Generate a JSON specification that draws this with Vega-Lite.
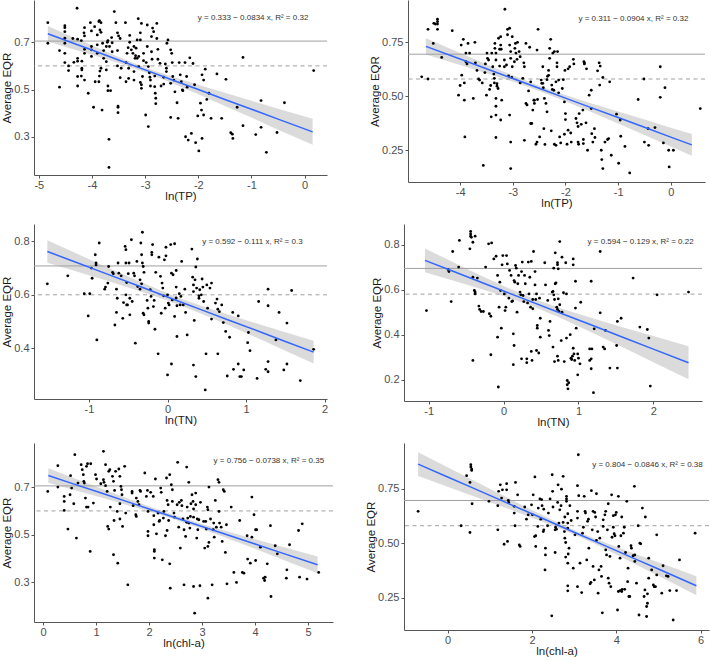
{
"$schema": "https://vega.github.io/schema/vega-lite/v6.json",
"background": "white",
"padding": {"left": 1, "top": 0, "right": 0, "bottom": 0},
"config": {
 "view": {"stroke": null},
 "axis": {"grid": false, "domainColor": "#555555", "domainWidth": 1, "tickColor": "#555555", "tickSize": 3, "labelFont": "Liberation Sans", "labelFontSize": 11, "labelColor": "#4d4d4d", "labelPadding": 2, "titleFont": "Liberation Sans", "titleFontSize": 11.5, "titleFontWeight": "normal", "titleColor": "#1a1a1a", "titlePadding": 1, "labelFlush": false, "labelOverlap": false, "labelExpr": "replace(datum.label, '−', '-')"},
 "axisX": {"labelPadding": 1, "titlePadding": 0},
 "text": {"font": "Liberation Sans"}
},
"datasets": {
 "refs": [
  {"p":1,"v":0.705,"t":"solid"},{"p":1,"v":0.6,"t":"dashed"},
  {"p":2,"v":0.695,"t":"solid"},{"p":2,"v":0.58,"t":"dashed"},
  {"p":3,"v":0.708,"t":"solid"},{"p":3,"v":0.6,"t":"dashed"},
  {"p":4,"v":0.694,"t":"solid"},{"p":4,"v":0.58,"t":"dashed"},
  {"p":5,"v":0.705,"t":"solid"},{"p":5,"v":0.6,"t":"dashed"},
  {"p":6,"v":0.696,"t":"solid"},{"p":6,"v":0.58,"t":"dashed"}
 ],
 "notes": [
  {"p":1,"x":-0.97,"y":0.803,"label":"y = 0.333 − 0.0834 x,  R² = 0.32"},
  {"p":2,"x":-0.71,"y":0.858,"label":"y = 0.311 − 0.0904 x,  R² = 0.32"},
  {"p":3,"x":1.08,"y":0.797,"label":"y = 0.592 − 0.111 x,  R² = 0.3"},
  {"p":4,"x":1.83,"y":0.813,"label":"y = 0.594 − 0.129 x,  R² = 0.22"},
  {"p":5,"x":4.26,"y":0.808,"label":"y = 0.756 − 0.0738 x,  R² = 0.35"},
  {"p":6,"x":4.74,"y":0.86,"label":"y = 0.804 − 0.0846 x,  R² = 0.38"}
 ],
 "band": [
  {"p":1,"x":-4.83,"lo":0.703,"hi":0.769,"fit":0.736},{"p":1,"x":-4.4,"lo":0.674,"hi":0.726,"fit":0.700},{"p":1,"x":-4,"lo":0.647,"hi":0.687,"fit":0.667},{"p":1,"x":-3.5,"lo":0.612,"hi":0.638,"fit":0.625},{"p":1,"x":-3,"lo":0.573,"hi":0.593,"fit":0.583},{"p":1,"x":-2.5,"lo":0.528,"hi":0.555,"fit":0.5415},{"p":1,"x":-2,"lo":0.480,"hi":0.520,"fit":0.500},{"p":1,"x":-1.5,"lo":0.430,"hi":0.486,"fit":0.458},{"p":1,"x":-1,"lo":0.381,"hi":0.452,"fit":0.4165},{"p":1,"x":-0.5,"lo":0.330,"hi":0.419,"fit":0.3745},{"p":1,"x":0.15,"lo":0.266,"hi":0.376,"fit":0.3205},
  {"p":2,"x":-4.65,"lo":0.693,"hi":0.769,"fit":0.731},{"p":2,"x":-4,"lo":0.645,"hi":0.700,"fit":0.6725},{"p":2,"x":-3.5,"lo":0.607,"hi":0.648,"fit":0.6275},{"p":2,"x":-3,"lo":0.568,"hi":0.597,"fit":0.5825},{"p":2,"x":-2.5,"lo":0.525,"hi":0.549,"fit":0.537},{"p":2,"x":-2,"lo":0.477,"hi":0.506,"fit":0.4915},{"p":2,"x":-1.5,"lo":0.426,"hi":0.467,"fit":0.4465},{"p":2,"x":-1,"lo":0.374,"hi":0.429,"fit":0.4015},{"p":2,"x":-0.5,"lo":0.321,"hi":0.392,"fit":0.3565},{"p":2,"x":0,"lo":0.268,"hi":0.354,"fit":0.311},{"p":2,"x":0.4,"lo":0.225,"hi":0.325,"fit":0.275},
  {"p":3,"x":-1.53,"lo":0.720,"hi":0.804,"fit":0.762},{"p":3,"x":-1.2,"lo":0.691,"hi":0.760,"fit":0.7255},{"p":3,"x":-0.8,"lo":0.655,"hi":0.707,"fit":0.681},{"p":3,"x":-0.4,"lo":0.618,"hi":0.655,"fit":0.6365},{"p":3,"x":0,"lo":0.5785,"hi":0.6055,"fit":0.592},{"p":3,"x":0.15,"lo":0.562,"hi":0.588,"fit":0.575},{"p":3,"x":0.4,"lo":0.533,"hi":0.562,"fit":0.5475},{"p":3,"x":0.8,"lo":0.483,"hi":0.523,"fit":0.503},{"p":3,"x":1.2,"lo":0.431,"hi":0.487,"fit":0.459},{"p":3,"x":1.5,"lo":0.391,"hi":0.460,"fit":0.4255},{"p":3,"x":1.86,"lo":0.343,"hi":0.428,"fit":0.3855},
  {"p":4,"x":-1.05,"lo":0.677,"hi":0.782,"fit":0.7295},{"p":4,"x":-0.7,"lo":0.643,"hi":0.726,"fit":0.6845},{"p":4,"x":-0.3,"lo":0.603,"hi":0.662,"fit":0.6325},{"p":4,"x":0,"lo":0.572,"hi":0.616,"fit":0.594},{"p":4,"x":0.4,"lo":0.525,"hi":0.559,"fit":0.5425},{"p":4,"x":0.8,"lo":0.469,"hi":0.513,"fit":0.491},{"p":4,"x":1.2,"lo":0.407,"hi":0.472,"fit":0.4395},{"p":4,"x":1.6,"lo":0.343,"hi":0.432,"fit":0.3875},{"p":4,"x":2.0,"lo":0.278,"hi":0.394,"fit":0.336},{"p":4,"x":2.47,"lo":0.202,"hi":0.349,"fit":0.2755},
  {"p":5,"x":0.1,"lo":0.718,"hi":0.779,"fit":0.7485},{"p":5,"x":0.6,"lo":0.687,"hi":0.736,"fit":0.7115},{"p":5,"x":1.1,"lo":0.656,"hi":0.694,"fit":0.675},{"p":5,"x":1.6,"lo":0.624,"hi":0.652,"fit":0.638},{"p":5,"x":2.1,"lo":0.591,"hi":0.611,"fit":0.601},{"p":5,"x":2.5,"lo":0.5625,"hi":0.5805,"fit":0.5715},{"p":5,"x":3.0,"lo":0.524,"hi":0.545,"fit":0.5345},{"p":5,"x":3.5,"lo":0.483,"hi":0.513,"fit":0.498},{"p":5,"x":4.0,"lo":0.441,"hi":0.481,"fit":0.461},{"p":5,"x":4.5,"lo":0.397,"hi":0.451,"fit":0.424},{"p":5,"x":5.18,"lo":0.339,"hi":0.409,"fit":0.374},
  {"p":6,"x":-0.7,"lo":0.808,"hi":0.918,"fit":0.863},{"p":6,"x":0,"lo":0.759,"hi":0.849,"fit":0.804},{"p":6,"x":0.5,"lo":0.724,"hi":0.7995,"fit":0.7617},{"p":6,"x":1,"lo":0.6885,"hi":0.750,"fit":0.7194},{"p":6,"x":1.5,"lo":0.653,"hi":0.701,"fit":0.677},{"p":6,"x":2,"lo":0.617,"hi":0.6525,"fit":0.6348},{"p":6,"x":2.5,"lo":0.580,"hi":0.605,"fit":0.5925},{"p":6,"x":3,"lo":0.540,"hi":0.560,"fit":0.550},{"p":6,"x":3.5,"lo":0.4955,"hi":0.520,"fit":0.508},{"p":6,"x":4,"lo":0.448,"hi":0.483,"fit":0.4655},{"p":6,"x":4.5,"lo":0.399,"hi":0.447,"fit":0.423},{"p":6,"x":5,"lo":0.350,"hi":0.412,"fit":0.381},{"p":6,"x":5.9,"lo":0.261,"hi":0.348,"fit":0.3045}
 ],
 "pts": [
  {"p":1,"x":-4.83,"y":0.783},{"p":1,"x":-4.83,"y":0.696},{"p":1,"x":-4.61,"y":0.665},{"p":1,"x":-4.61,"y":0.51},{"p":1,"x":-4.51,"y":0.77},{"p":1,"x":-4.51,"y":0.762},{"p":1,"x":-4.51,"y":0.745},{"p":1,"x":-4.51,"y":0.717},{"p":1,"x":-4.51,"y":0.696},{"p":1,"x":-4.51,"y":0.653},{"p":1,"x":-4.51,"y":0.614},{"p":1,"x":-4.44,"y":0.6},{"p":1,"x":-4.44,"y":0.58},{"p":1,"x":-4.36,"y":0.716},{"p":1,"x":-4.34,"y":0.615},{"p":1,"x":-4.28,"y":0.844},{"p":1,"x":-4.27,"y":0.713},{"p":1,"x":-4.27,"y":0.632},{"p":1,"x":-4.27,"y":0.62},{"p":1,"x":-4.27,"y":0.555},{"p":1,"x":-4.27,"y":0.515},{"p":1,"x":-4.2,"y":0.707},{"p":1,"x":-4.2,"y":0.557},{"p":1,"x":-4.15,"y":0.74},{"p":1,"x":-4.14,"y":0.762},{"p":1,"x":-4.14,"y":0.727},{"p":1,"x":-4.14,"y":0.67},{"p":1,"x":-4.14,"y":0.653},{"p":1,"x":-4.14,"y":0.54},{"p":1,"x":-4.19,"y":0.62},{"p":1,"x":-4.19,"y":0.59},{"p":1,"x":-4.19,"y":0.583},{"p":1,"x":-4.07,"y":0.484},{"p":1,"x":-4.03,"y":0.783},{"p":1,"x":-4.01,"y":0.748},{"p":1,"x":-4.01,"y":0.682},{"p":1,"x":-4.01,"y":0.668},{"p":1,"x":-4.01,"y":0.64},{"p":1,"x":-3.97,"y":0.425},{"p":1,"x":-3.95,"y":0.766},{"p":1,"x":-3.94,"y":0.533},{"p":1,"x":-3.9,"y":0.653},{"p":1,"x":-3.9,"y":0.689},{"p":1,"x":-3.9,"y":0.731},{"p":1,"x":-3.87,"y":0.788},{"p":1,"x":-3.86,"y":0.792},{"p":1,"x":-3.83,"y":0.783},{"p":1,"x":-3.85,"y":0.752},{"p":1,"x":-3.83,"y":0.742},{"p":1,"x":-3.87,"y":0.533},{"p":1,"x":-3.86,"y":0.557},{"p":1,"x":-3.85,"y":0.578},{"p":1,"x":-3.83,"y":0.59},{"p":1,"x":-3.81,"y":0.413},{"p":1,"x":-3.8,"y":0.696},{"p":1,"x":-3.78,"y":0.665},{"p":1,"x":-3.78,"y":0.632},{"p":1,"x":-3.73,"y":0.682},{"p":1,"x":-3.73,"y":0.618},{"p":1,"x":-3.73,"y":0.583},{"p":1,"x":-3.71,"y":0.7},{"p":1,"x":-3.7,"y":0.707},{"p":1,"x":-3.7,"y":0.515},{"p":1,"x":-3.7,"y":0.495},{"p":1,"x":-3.68,"y":0.289},{"p":1,"x":-3.68,"y":0.17},{"p":1,"x":-3.65,"y":0.495},{"p":1,"x":-3.67,"y":0.682},{"p":1,"x":-3.63,"y":0.72},{"p":1,"x":-3.62,"y":0.698},{"p":1,"x":-3.62,"y":0.66},{"p":1,"x":-3.58,"y":0.83},{"p":1,"x":-3.55,"y":0.783},{"p":1,"x":-3.52,"y":0.6},{"p":1,"x":-3.52,"y":0.665},{"p":1,"x":-3.52,"y":0.74},{"p":1,"x":-3.5,"y":0.727},{"p":1,"x":-3.51,"y":0.43},{"p":1,"x":-3.51,"y":0.425},{"p":1,"x":-3.51,"y":0.402},{"p":1,"x":-3.47,"y":0.716},{"p":1,"x":-3.47,"y":0.55},{"p":1,"x":-3.45,"y":0.59},{"p":1,"x":-3.37,"y":0.783},{"p":1,"x":-3.36,"y":0.614},{"p":1,"x":-3.36,"y":0.533},{"p":1,"x":-3.34,"y":0.653},{"p":1,"x":-3.32,"y":0.677},{"p":1,"x":-3.31,"y":0.59},{"p":1,"x":-3.31,"y":0.547},{"p":1,"x":-3.29,"y":0.7},{"p":1,"x":-3.29,"y":0.729},{"p":1,"x":-3.26,"y":0.668},{"p":1,"x":-3.23,"y":0.653},{"p":1,"x":-3.21,"y":0.682},{"p":1,"x":-3.19,"y":0.632},{"p":1,"x":-3.21,"y":0.576},{"p":1,"x":-3.21,"y":0.54},{"p":1,"x":-3.18,"y":0.643},{"p":1,"x":-3.17,"y":0.675},{"p":1,"x":-3.15,"y":0.71},{"p":1,"x":-3.13,"y":0.8},{"p":1,"x":-3.15,"y":0.632},{"p":1,"x":-3.12,"y":0.64},{"p":1,"x":-3.12,"y":0.597},{"p":1,"x":-3.09,"y":0.71},{"p":1,"x":-3.09,"y":0.74},{"p":1,"x":-3.07,"y":0.78},{"p":1,"x":-3.09,"y":0.53},{"p":1,"x":-3.07,"y":0.52},{"p":1,"x":-3.07,"y":0.505},{"p":1,"x":-3.05,"y":0.555},{"p":1,"x":-3.03,"y":0.622},{"p":1,"x":-3.03,"y":0.653},{"p":1,"x":-2.99,"y":0.392},{"p":1,"x":-2.98,"y":0.614},{"p":1,"x":-2.96,"y":0.773},{"p":1,"x":-2.96,"y":0.682},{"p":1,"x":-2.94,"y":0.597},{"p":1,"x":-2.94,"y":0.343},{"p":1,"x":-2.92,"y":0.571},{"p":1,"x":-2.91,"y":0.552},{"p":1,"x":-2.9,"y":0.54},{"p":1,"x":-2.9,"y":0.515},{"p":1,"x":-2.88,"y":0.724},{"p":1,"x":-2.88,"y":0.66},{"p":1,"x":-2.87,"y":0.628},{"p":1,"x":-2.86,"y":0.76},{"p":1,"x":-2.84,"y":0.745},{"p":1,"x":-2.82,"y":0.557},{"p":1,"x":-2.82,"y":0.512},{"p":1,"x":-2.81,"y":0.484},{"p":1,"x":-2.8,"y":0.463},{"p":1,"x":-2.8,"y":0.44},{"p":1,"x":-2.78,"y":0.78},{"p":1,"x":-2.78,"y":0.716},{"p":1,"x":-2.76,"y":0.67},{"p":1,"x":-2.76,"y":0.628},{"p":1,"x":-2.72,"y":0.611},{"p":1,"x":-2.7,"y":0.515},{"p":1,"x":-2.65,"y":0.552},{"p":1,"x":-2.65,"y":0.523},{"p":1,"x":-2.62,"y":0.608},{"p":1,"x":-2.6,"y":0.59},{"p":1,"x":-2.6,"y":0.576},{"p":1,"x":-2.59,"y":0.696},{"p":1,"x":-2.57,"y":0.71},{"p":1,"x":-2.52,"y":0.668},{"p":1,"x":-2.5,"y":0.653},{"p":1,"x":-2.49,"y":0.614},{"p":1,"x":-2.52,"y":0.382},{"p":1,"x":-2.52,"y":0.526},{"p":1,"x":-2.48,"y":0.555},{"p":1,"x":-2.46,"y":0.54},{"p":1,"x":-2.44,"y":0.49},{"p":1,"x":-2.4,"y":0.444},{"p":1,"x":-2.38,"y":0.378},{"p":1,"x":-2.36,"y":0.614},{"p":1,"x":-2.34,"y":0.562},{"p":1,"x":-2.32,"y":0.533},{"p":1,"x":-2.3,"y":0.498},{"p":1,"x":-2.29,"y":0.495},{"p":1,"x":-2.25,"y":0.614},{"p":1,"x":-2.24,"y":0.3},{"p":1,"x":-2.22,"y":0.555},{"p":1,"x":-2.21,"y":0.51},{"p":1,"x":-2.19,"y":0.286},{"p":1,"x":-2.16,"y":0.634},{"p":1,"x":-2.13,"y":0.314},{"p":1,"x":-2.1,"y":0.61},{"p":1,"x":-2.07,"y":0.52},{"p":1,"x":-2.05,"y":0.275},{"p":1,"x":-2.01,"y":0.388},{"p":1,"x":-1.99,"y":0.24},{"p":1,"x":-1.96,"y":0.442},{"p":1,"x":-1.94,"y":0.413},{"p":1,"x":-1.93,"y":0.562},{"p":1,"x":-1.93,"y":0.293},{"p":1,"x":-1.9,"y":0.54},{"p":1,"x":-1.9,"y":0.392},{"p":1,"x":-1.87,"y":0.586},{"p":1,"x":-1.84,"y":0.458},{"p":1,"x":-1.8,"y":0.484},{"p":1,"x":-1.76,"y":0.378},{"p":1,"x":-1.65,"y":0.566},{"p":1,"x":-1.56,"y":0.378},{"p":1,"x":-1.48,"y":0.543},{"p":1,"x":-1.39,"y":0.317},{"p":1,"x":-1.36,"y":0.311},{"p":1,"x":-1.35,"y":0.293},{"p":1,"x":-1.27,"y":0.425},{"p":1,"x":-1.16,"y":0.636},{"p":1,"x":-1.16,"y":0.347},{"p":1,"x":-0.92,"y":0.309},{"p":1,"x":-0.82,"y":0.453},{"p":1,"x":-0.82,"y":0.34},{"p":1,"x":-0.72,"y":0.234},{"p":1,"x":-0.52,"y":0.318},{"p":1,"x":-0.38,"y":0.444},{"p":1,"x":0.17,"y":0.58},
  {"p":2,"x":-4.73,"y":0.59},{"p":2,"x":-4.61,"y":0.81},{"p":2,"x":-4.61,"y":0.58},{"p":2,"x":-4.5,"y":0.838},{"p":2,"x":-4.47,"y":0.835},{"p":2,"x":-4.51,"y":0.745},{"p":2,"x":-4.43,"y":0.857},{"p":2,"x":-4.43,"y":0.846},{"p":2,"x":-4.43,"y":0.835},{"p":2,"x":-4.43,"y":0.81},{"p":2,"x":-4.35,"y":0.68},{"p":2,"x":-4.15,"y":0.804},{"p":2,"x":-4.03,"y":0.505},{"p":2,"x":-4.0,"y":0.55},{"p":2,"x":-3.98,"y":0.737},{"p":2,"x":-3.97,"y":0.598},{"p":2,"x":-3.94,"y":0.764},{"p":2,"x":-3.92,"y":0.482},{"p":2,"x":-3.91,"y":0.312},{"p":2,"x":-3.92,"y":0.562},{"p":2,"x":-3.89,"y":0.66},{"p":2,"x":-3.89,"y":0.7},{"p":2,"x":-3.87,"y":0.65},{"p":2,"x":-3.85,"y":0.745},{"p":2,"x":-3.82,"y":0.7},{"p":2,"x":-3.75,"y":0.49},{"p":2,"x":-3.72,"y":0.75},{"p":2,"x":-3.71,"y":0.655},{"p":2,"x":-3.68,"y":0.62},{"p":2,"x":-3.65,"y":0.58},{"p":2,"x":-3.63,"y":0.575},{"p":2,"x":-3.58,"y":0.562},{"p":2,"x":-3.56,"y":0.18},{"p":2,"x":-3.53,"y":0.61},{"p":2,"x":-3.52,"y":0.65},{"p":2,"x":-3.5,"y":0.505},{"p":2,"x":-3.49,"y":0.7},{"p":2,"x":-3.48,"y":0.676},{"p":2,"x":-3.46,"y":0.668},{"p":2,"x":-3.44,"y":0.532},{"p":2,"x":-3.42,"y":0.55},{"p":2,"x":-3.41,"y":0.405},{"p":2,"x":-3.4,"y":0.7},{"p":2,"x":-3.38,"y":0.637},{"p":2,"x":-3.36,"y":0.603},{"p":2,"x":-3.35,"y":0.583},{"p":2,"x":-3.35,"y":0.562},{"p":2,"x":-3.34,"y":0.745},{"p":2,"x":-3.34,"y":0.722},{"p":2,"x":-3.32,"y":0.7},{"p":2,"x":-3.32,"y":0.668},{"p":2,"x":-3.32,"y":0.49},{"p":2,"x":-3.32,"y":0.454},{"p":2,"x":-3.32,"y":0.413},{"p":2,"x":-3.32,"y":0.309},{"p":2,"x":-3.3,"y":0.558},{"p":2,"x":-3.3,"y":0.547},{"p":2,"x":-3.28,"y":0.536},{"p":2,"x":-3.27,"y":0.769},{"p":2,"x":-3.25,"y":0.718},{"p":2,"x":-3.25,"y":0.64},{"p":2,"x":-3.23,"y":0.776},{"p":2,"x":-3.23,"y":0.737},{"p":2,"x":-3.23,"y":0.39},{"p":2,"x":-3.22,"y":0.718},{"p":2,"x":-3.21,"y":0.482},{"p":2,"x":-3.16,"y":0.668},{"p":2,"x":-3.16,"y":0.637},{"p":2,"x":-3.12,"y":0.645},{"p":2,"x":-3.1,"y":0.81},{"p":2,"x":-3.1,"y":0.785},{"p":2,"x":-3.15,"y":0.903},{"p":2,"x":-3.08,"y":0.594},{"p":2,"x":-3.06,"y":0.413},{"p":2,"x":-3.06,"y":0.815},{"p":2,"x":-3.06,"y":0.737},{"p":2,"x":-3.04,"y":0.707},{"p":2,"x":-3.04,"y":0.676},{"p":2,"x":-3.04,"y":0.288},{"p":2,"x":-3.04,"y":0.165},{"p":2,"x":-3.02,"y":0.587},{"p":2,"x":-3.01,"y":0.776},{"p":2,"x":-3.01,"y":0.637},{"p":2,"x":-2.97,"y":0.66},{"p":2,"x":-2.96,"y":0.722},{"p":2,"x":-2.95,"y":0.745},{"p":2,"x":-2.94,"y":0.7},{"p":2,"x":-2.92,"y":0.671},{"p":2,"x":-2.91,"y":0.75},{"p":2,"x":-2.88,"y":0.707},{"p":2,"x":-2.86,"y":0.683},{"p":2,"x":-2.86,"y":0.562},{"p":2,"x":-2.81,"y":0.583},{"p":2,"x":-2.79,"y":0.655},{"p":2,"x":-2.78,"y":0.637},{"p":2,"x":-2.78,"y":0.296},{"p":2,"x":-2.75,"y":0.745},{"p":2,"x":-2.75,"y":0.467},{"p":2,"x":-2.73,"y":0.46},{"p":2,"x":-2.7,"y":0.525},{"p":2,"x":-2.68,"y":0.727},{"p":2,"x":-2.66,"y":0.567},{"p":2,"x":-2.66,"y":0.374},{"p":2,"x":-2.64,"y":0.374},{"p":2,"x":-2.62,"y":0.436},{"p":2,"x":-2.6,"y":0.482},{"p":2,"x":-2.59,"y":0.482},{"p":2,"x":-2.59,"y":0.467},{"p":2,"x":-2.56,"y":0.278},{"p":2,"x":-2.54,"y":0.714},{"p":2,"x":-2.54,"y":0.288},{"p":2,"x":-2.53,"y":0.485},{"p":2,"x":-2.52,"y":0.81},{"p":2,"x":-2.49,"y":0.312},{"p":2,"x":-2.46,"y":0.575},{"p":2,"x":-2.45,"y":0.56},{"p":2,"x":-2.43,"y":0.56},{"p":2,"x":-2.43,"y":0.637},{"p":2,"x":-2.42,"y":0.54},{"p":2,"x":-2.41,"y":0.35},{"p":2,"x":-2.4,"y":0.49},{"p":2,"x":-2.39,"y":0.277},{"p":2,"x":-2.37,"y":0.467},{"p":2,"x":-2.35,"y":0.428},{"p":2,"x":-2.35,"y":0.577},{"p":2,"x":-2.34,"y":0.593},{"p":2,"x":-2.32,"y":0.62},{"p":2,"x":-2.32,"y":0.597},{"p":2,"x":-2.3,"y":0.722},{"p":2,"x":-2.3,"y":0.676},{"p":2,"x":-2.28,"y":0.764},{"p":2,"x":-2.27,"y":0.34},{"p":2,"x":-2.26,"y":0.552},{"p":2,"x":-2.25,"y":0.532},{"p":2,"x":-2.24,"y":0.7},{"p":2,"x":-2.22,"y":0.528},{"p":2,"x":-2.21,"y":0.278},{"p":2,"x":-2.21,"y":0.707},{"p":2,"x":-2.18,"y":0.273},{"p":2,"x":-2.18,"y":0.567},{"p":2,"x":-2.16,"y":0.655},{"p":2,"x":-2.16,"y":0.637},{"p":2,"x":-2.15,"y":0.707},{"p":2,"x":-2.13,"y":0.575},{"p":2,"x":-2.13,"y":0.516},{"p":2,"x":-2.11,"y":0.312},{"p":2,"x":-2.09,"y":0.284},{"p":2,"x":-2.06,"y":0.536},{"p":2,"x":-2.04,"y":0.577},{"p":2,"x":-2.02,"y":0.474},{"p":2,"x":-2.02,"y":0.324},{"p":2,"x":-2.01,"y":0.62},{"p":2,"x":-2.0,"y":0.42},{"p":2,"x":-2.0,"y":0.392},{"p":2,"x":-1.97,"y":0.278},{"p":2,"x":-1.95,"y":0.627},{"p":2,"x":-1.95,"y":0.343},{"p":2,"x":-1.92,"y":0.637},{"p":2,"x":-1.9,"y":0.33},{"p":2,"x":-1.89,"y":0.288},{"p":2,"x":-1.85,"y":0.671},{"p":2,"x":-1.84,"y":0.65},{"p":2,"x":-1.8,"y":0.397},{"p":2,"x":-1.78,"y":0.377},{"p":2,"x":-1.76,"y":0.36},{"p":2,"x":-1.76,"y":0.288},{"p":2,"x":-1.75,"y":0.278},{"p":2,"x":-1.74,"y":0.42},{"p":2,"x":-1.7,"y":0.37},{"p":2,"x":-1.67,"y":0.436},{"p":2,"x":-1.65,"y":0.66},{"p":2,"x":-1.64,"y":0.655},{"p":2,"x":-1.64,"y":0.65},{"p":2,"x":-1.66,"y":0.3},{"p":2,"x":-1.66,"y":0.281},{"p":2,"x":-1.61,"y":0.377},{"p":2,"x":-1.6,"y":0.627},{"p":2,"x":-1.58,"y":0.25},{"p":2,"x":-1.55,"y":0.505},{"p":2,"x":-1.51,"y":0.528},{"p":2,"x":-1.51,"y":0.443},{"p":2,"x":-1.5,"y":0.327},{"p":2,"x":-1.48,"y":0.288},{"p":2,"x":-1.45,"y":0.35},{"p":2,"x":-1.44,"y":0.309},{"p":2,"x":-1.39,"y":0.618},{"p":2,"x":-1.36,"y":0.655},{"p":2,"x":-1.35,"y":0.552},{"p":2,"x":-1.34,"y":0.64},{"p":2,"x":-1.32,"y":0.25},{"p":2,"x":-1.31,"y":0.207},{"p":2,"x":-1.29,"y":0.587},{"p":2,"x":-1.29,"y":0.165},{"p":2,"x":-1.25,"y":0.288},{"p":2,"x":-1.2,"y":0.3},{"p":2,"x":-1.18,"y":0.304},{"p":2,"x":-1.16,"y":0.567},{"p":2,"x":-1.13,"y":0.227},{"p":2,"x":-1.03,"y":0.417},{"p":2,"x":-0.99,"y":0.19},{"p":2,"x":-0.96,"y":0.39},{"p":2,"x":-0.95,"y":0.315},{"p":2,"x":-0.87,"y":0.268},{"p":2,"x":-0.78,"y":0.145},{"p":2,"x":-0.62,"y":0.485},{"p":2,"x":-0.51,"y":0.58},{"p":2,"x":-0.5,"y":0.288},{"p":2,"x":-0.43,"y":0.35},{"p":2,"x":-0.42,"y":0.273},{"p":2,"x":-0.3,"y":0.355},{"p":2,"x":-0.2,"y":0.637},{"p":2,"x":-0.2,"y":0.495},{"p":2,"x":-0.14,"y":0.284},{"p":2,"x":-0.11,"y":0.54},{"p":2,"x":-0.04,"y":0.25},{"p":2,"x":-0.03,"y":0.173},{"p":2,"x":0.05,"y":0.25},{"p":2,"x":0.56,"y":0.443},
  {"p":3,"x":-1.53,"y":0.641},{"p":3,"x":-1.27,"y":0.671},{"p":3,"x":-1.06,"y":0.604},{"p":3,"x":-1.01,"y":0.521},{"p":3,"x":-0.99,"y":0.604},{"p":3,"x":-0.97,"y":0.7},{"p":3,"x":-0.96,"y":0.662},{"p":3,"x":-0.92,"y":0.75},{"p":3,"x":-0.91,"y":0.719},{"p":3,"x":-0.91,"y":0.712},{"p":3,"x":-0.9,"y":0.431},{"p":3,"x":-0.87,"y":0.794},{"p":3,"x":-0.8,"y":0.621},{"p":3,"x":-0.79,"y":0.629},{"p":3,"x":-0.76,"y":0.644},{"p":3,"x":-0.75,"y":0.706},{"p":3,"x":-0.7,"y":0.684},{"p":3,"x":-0.69,"y":0.679},{"p":3,"x":-0.67,"y":0.487},{"p":3,"x":-0.65,"y":0.621},{"p":3,"x":-0.65,"y":0.534},{"p":3,"x":-0.64,"y":0.587},{"p":3,"x":-0.63,"y":0.719},{"p":3,"x":-0.62,"y":0.681},{"p":3,"x":-0.59,"y":0.671},{"p":3,"x":-0.57,"y":0.512},{"p":3,"x":-0.56,"y":0.571},{"p":3,"x":-0.54,"y":0.781},{"p":3,"x":-0.53,"y":0.769},{"p":3,"x":-0.53,"y":0.719},{"p":3,"x":-0.53,"y":0.6},{"p":3,"x":-0.52,"y":0.646},{"p":3,"x":-0.52,"y":0.562},{"p":3,"x":-0.51,"y":0.562},{"p":3,"x":-0.5,"y":0.679},{"p":3,"x":-0.49,"y":0.719},{"p":3,"x":-0.48,"y":0.587},{"p":3,"x":-0.48,"y":0.525},{"p":3,"x":-0.46,"y":0.806},{"p":3,"x":-0.45,"y":0.575},{"p":3,"x":-0.43,"y":0.681},{"p":3,"x":-0.42,"y":0.671},{"p":3,"x":-0.41,"y":0.419},{"p":3,"x":-0.39,"y":0.725},{"p":3,"x":-0.38,"y":0.631},{"p":3,"x":-0.35,"y":0.656},{"p":3,"x":-0.35,"y":0.621},{"p":3,"x":-0.34,"y":0.794},{"p":3,"x":-0.33,"y":0.75},{"p":3,"x":-0.33,"y":0.641},{"p":3,"x":-0.32,"y":0.834},{"p":3,"x":-0.32,"y":0.719},{"p":3,"x":-0.31,"y":0.531},{"p":3,"x":-0.3,"y":0.525},{"p":3,"x":-0.31,"y":0.706},{"p":3,"x":-0.3,"y":0.684},{"p":3,"x":-0.26,"y":0.579},{"p":3,"x":-0.25,"y":0.55},{"p":3,"x":-0.24,"y":0.5},{"p":3,"x":-0.24,"y":0.494},{"p":3,"x":-0.22,"y":0.619},{"p":3,"x":-0.21,"y":0.594},{"p":3,"x":-0.2,"y":0.759},{"p":3,"x":-0.2,"y":0.75},{"p":3,"x":-0.19,"y":0.788},{"p":3,"x":-0.18,"y":0.556},{"p":3,"x":-0.17,"y":0.579},{"p":3,"x":-0.16,"y":0.471},{"p":3,"x":-0.15,"y":0.684},{"p":3,"x":-0.12,"y":0.379},{"p":3,"x":-0.11,"y":0.741},{"p":3,"x":-0.09,"y":0.669},{"p":3,"x":-0.08,"y":0.531},{"p":3,"x":-0.07,"y":0.644},{"p":3,"x":-0.06,"y":0.625},{"p":3,"x":-0.05,"y":0.596},{"p":3,"x":-0.04,"y":0.731},{"p":3,"x":-0.03,"y":0.55},{"p":3,"x":-0.02,"y":0.746},{"p":3,"x":-0.02,"y":0.778},{"p":3,"x":0.0,"y":0.6},{"p":3,"x":0.0,"y":0.3},{"p":3,"x":0.01,"y":0.569},{"p":3,"x":0.02,"y":0.562},{"p":3,"x":0.04,"y":0.788},{"p":3,"x":0.05,"y":0.681},{"p":3,"x":0.05,"y":0.341},{"p":3,"x":0.06,"y":0.581},{"p":3,"x":0.07,"y":0.675},{"p":3,"x":0.09,"y":0.519},{"p":3,"x":0.09,"y":0.791},{"p":3,"x":0.11,"y":0.588},{"p":3,"x":0.11,"y":0.691},{"p":3,"x":0.11,"y":0.629},{"p":3,"x":0.12,"y":0.559},{"p":3,"x":0.12,"y":0.444},{"p":3,"x":0.15,"y":0.604},{"p":3,"x":0.16,"y":0.562},{"p":3,"x":0.17,"y":0.594},{"p":3,"x":0.18,"y":0.725},{"p":3,"x":0.2,"y":0.562},{"p":3,"x":0.22,"y":0.621},{"p":3,"x":0.23,"y":0.534},{"p":3,"x":0.25,"y":0.45},{"p":3,"x":0.31,"y":0.771},{"p":3,"x":0.32,"y":0.666},{"p":3,"x":0.33,"y":0.612},{"p":3,"x":0.33,"y":0.637},{"p":3,"x":0.33,"y":0.337},{"p":3,"x":0.34,"y":0.504},{"p":3,"x":0.35,"y":0.656},{"p":3,"x":0.36,"y":0.704},{"p":3,"x":0.36,"y":0.294},{"p":3,"x":0.37,"y":0.625},{"p":3,"x":0.38,"y":0.734},{"p":3,"x":0.4,"y":0.587},{"p":3,"x":0.4,"y":0.596},{"p":3,"x":0.41,"y":0.619},{"p":3,"x":0.43,"y":0.6},{"p":3,"x":0.44,"y":0.659},{"p":3,"x":0.45,"y":0.629},{"p":3,"x":0.46,"y":0.575},{"p":3,"x":0.48,"y":0.244},{"p":3,"x":0.49,"y":0.379},{"p":3,"x":0.5,"y":0.637},{"p":3,"x":0.51,"y":0.55},{"p":3,"x":0.54,"y":0.625},{"p":3,"x":0.56,"y":0.644},{"p":3,"x":0.56,"y":0.509},{"p":3,"x":0.61,"y":0.569},{"p":3,"x":0.63,"y":0.584},{"p":3,"x":0.64,"y":0.546},{"p":3,"x":0.64,"y":0.379},{"p":3,"x":0.66,"y":0.537},{"p":3,"x":0.69,"y":0.562},{"p":3,"x":0.71,"y":0.496},{"p":3,"x":0.74,"y":0.463},{"p":3,"x":0.76,"y":0.296},{"p":3,"x":0.79,"y":0.441},{"p":3,"x":0.83,"y":0.534},{"p":3,"x":0.84,"y":0.321},{"p":3,"x":0.9,"y":0.521},{"p":3,"x":0.9,"y":0.341},{"p":3,"x":0.92,"y":0.294},{"p":3,"x":0.94,"y":0.294},{"p":3,"x":0.97,"y":0.319},{"p":3,"x":1.02,"y":0.421},{"p":3,"x":1.03,"y":0.459},{"p":3,"x":1.05,"y":0.391},{"p":3,"x":1.14,"y":0.287},{"p":3,"x":1.16,"y":0.575},{"p":3,"x":1.25,"y":0.321},{"p":3,"x":1.28,"y":0.621},{"p":3,"x":1.28,"y":0.559},{"p":3,"x":1.28,"y":0.35},{"p":3,"x":1.28,"y":0.312},{"p":3,"x":1.38,"y":0.431},{"p":3,"x":1.42,"y":0.534},{"p":3,"x":1.48,"y":0.319},{"p":3,"x":1.52,"y":0.494},{"p":3,"x":1.52,"y":0.341},{"p":3,"x":1.58,"y":0.616},{"p":3,"x":1.69,"y":0.279},{"p":3,"x":1.86,"y":0.396},
  {"p":4,"x":-1.03,"y":0.507},{"p":4,"x":-0.74,"y":0.689},{"p":4,"x":-0.73,"y":0.68},{"p":4,"x":-0.7,"y":0.547},{"p":4,"x":-0.68,"y":0.769},{"p":4,"x":-0.6,"y":0.7},{"p":4,"x":-0.59,"y":0.818},{"p":4,"x":-0.45,"y":0.781},{"p":4,"x":-0.44,"y":0.858},{"p":4,"x":-0.44,"y":0.847},{"p":4,"x":-0.44,"y":0.837},{"p":4,"x":-0.43,"y":0.832},{"p":4,"x":-0.41,"y":0.81},{"p":4,"x":-0.41,"y":0.286},{"p":4,"x":-0.41,"y":0.655},{"p":4,"x":-0.39,"y":0.596},{"p":4,"x":-0.38,"y":0.581},{"p":4,"x":-0.38,"y":0.589},{"p":4,"x":-0.38,"y":0.837},{"p":4,"x":-0.35,"y":0.651},{"p":4,"x":-0.33,"y":0.527},{"p":4,"x":-0.32,"y":0.512},{"p":4,"x":-0.3,"y":0.503},{"p":4,"x":-0.27,"y":0.503},{"p":4,"x":-0.24,"y":0.7},{"p":4,"x":-0.2,"y":0.803},{"p":4,"x":-0.19,"y":0.493},{"p":4,"x":-0.17,"y":0.311},{"p":4,"x":-0.17,"y":0.482},{"p":4,"x":-0.16,"y":0.807},{"p":4,"x":-0.13,"y":0.736},{"p":4,"x":-0.1,"y":0.748},{"p":4,"x":-0.08,"y":0.389},{"p":4,"x":-0.08,"y":0.663},{"p":4,"x":-0.07,"y":0.168},{"p":4,"x":-0.06,"y":0.522},{"p":4,"x":-0.05,"y":0.633},{"p":4,"x":-0.04,"y":0.596},{"p":4,"x":-0.03,"y":0.429},{"p":4,"x":-0.02,"y":0.71},{"p":4,"x":-0.01,"y":0.751},{"p":4,"x":0.01,"y":0.581},{"p":4,"x":0.02,"y":0.507},{"p":4,"x":0.03,"y":0.522},{"p":4,"x":0.04,"y":0.751},{"p":4,"x":0.05,"y":0.714},{"p":4,"x":0.07,"y":0.562},{"p":4,"x":0.08,"y":0.685},{"p":4,"x":0.1,"y":0.663},{"p":4,"x":0.11,"y":0.547},{"p":4,"x":0.12,"y":0.55},{"p":4,"x":0.13,"y":0.404},{"p":4,"x":0.13,"y":0.267},{"p":4,"x":0.14,"y":0.352},{"p":4,"x":0.14,"y":0.64},{"p":4,"x":0.15,"y":0.633},{"p":4,"x":0.16,"y":0.707},{"p":4,"x":0.17,"y":0.695},{"p":4,"x":0.18,"y":0.5},{"p":4,"x":0.19,"y":0.626},{"p":4,"x":0.2,"y":0.663},{"p":4,"x":0.22,"y":0.589},{"p":4,"x":0.23,"y":0.577},{"p":4,"x":0.24,"y":0.293},{"p":4,"x":0.24,"y":0.68},{"p":4,"x":0.25,"y":0.722},{"p":4,"x":0.26,"y":0.574},{"p":4,"x":0.27,"y":0.547},{"p":4,"x":0.28,"y":0.663},{"p":4,"x":0.29,"y":0.626},{"p":4,"x":0.31,"y":0.276},{"p":4,"x":0.31,"y":0.293},{"p":4,"x":0.32,"y":0.541},{"p":4,"x":0.33,"y":0.722},{"p":4,"x":0.34,"y":0.581},{"p":4,"x":0.35,"y":0.655},{"p":4,"x":0.36,"y":0.522},{"p":4,"x":0.37,"y":0.725},{"p":4,"x":0.37,"y":0.326},{"p":4,"x":0.38,"y":0.286},{"p":4,"x":0.39,"y":0.556},{"p":4,"x":0.39,"y":0.515},{"p":4,"x":0.4,"y":0.769},{"p":4,"x":0.42,"y":0.621},{"p":4,"x":0.42,"y":0.68},{"p":4,"x":0.43,"y":0.556},{"p":4,"x":0.44,"y":0.581},{"p":4,"x":0.44,"y":0.33},{"p":4,"x":0.45,"y":0.441},{"p":4,"x":0.45,"y":0.429},{"p":4,"x":0.47,"y":0.319},{"p":4,"x":0.48,"y":0.562},{"p":4,"x":0.49,"y":0.473},{"p":4,"x":0.49,"y":0.389},{"p":4,"x":0.55,"y":0.719},{"p":4,"x":0.56,"y":0.621},{"p":4,"x":0.59,"y":0.552},{"p":4,"x":0.6,"y":0.419},{"p":4,"x":0.61,"y":0.396},{"p":4,"x":0.62,"y":0.459},{"p":4,"x":0.65,"y":0.589},{"p":4,"x":0.66,"y":0.592},{"p":4,"x":0.66,"y":0.345},{"p":4,"x":0.67,"y":0.695},{"p":4,"x":0.67,"y":0.577},{"p":4,"x":0.68,"y":0.556},{"p":4,"x":0.68,"y":0.281},{"p":4,"x":0.69,"y":0.763},{"p":4,"x":0.69,"y":0.626},{"p":4,"x":0.7,"y":0.63},{"p":4,"x":0.71,"y":0.522},{"p":4,"x":0.72,"y":0.512},{"p":4,"x":0.72,"y":0.719},{"p":4,"x":0.72,"y":0.71},{"p":4,"x":0.73,"y":0.692},{"p":4,"x":0.73,"y":0.559},{"p":4,"x":0.72,"y":0.305},{"p":4,"x":0.73,"y":0.286},{"p":4,"x":0.74,"y":0.503},{"p":4,"x":0.75,"y":0.533},{"p":4,"x":0.75,"y":0.813},{"p":4,"x":0.77,"y":0.374},{"p":4,"x":0.78,"y":0.5},{"p":4,"x":0.78,"y":0.744},{"p":4,"x":0.8,"y":0.586},{"p":4,"x":0.81,"y":0.281},{"p":4,"x":0.83,"y":0.719},{"p":4,"x":0.84,"y":0.581},{"p":4,"x":0.84,"y":0.385},{"p":4,"x":0.85,"y":0.197},{"p":4,"x":0.85,"y":0.178},{"p":4,"x":0.86,"y":0.16},{"p":4,"x":0.87,"y":0.187},{"p":4,"x":0.89,"y":0.4},{"p":4,"x":0.9,"y":0.296},{"p":4,"x":0.91,"y":0.29},{"p":4,"x":0.92,"y":0.305},{"p":4,"x":0.93,"y":0.71},{"p":4,"x":0.93,"y":0.736},{"p":4,"x":0.93,"y":0.34},{"p":4,"x":0.94,"y":0.315},{"p":4,"x":0.95,"y":0.286},{"p":4,"x":0.96,"y":0.637},{"p":4,"x":0.96,"y":0.518},{"p":4,"x":0.97,"y":0.429},{"p":4,"x":0.99,"y":0.222},{"p":4,"x":0.99,"y":0.315},{"p":4,"x":1.0,"y":0.296},{"p":4,"x":1.02,"y":0.271},{"p":4,"x":1.03,"y":0.544},{"p":4,"x":1.15,"y":0.337},{"p":4,"x":1.15,"y":0.286},{"p":4,"x":1.17,"y":0.637},{"p":4,"x":1.17,"y":0.293},{"p":4,"x":1.17,"y":0.249},{"p":4,"x":1.18,"y":0.337},{"p":4,"x":1.2,"y":0.143},{"p":4,"x":1.21,"y":0.426},{"p":4,"x":1.29,"y":0.769},{"p":4,"x":1.29,"y":0.497},{"p":4,"x":1.33,"y":0.345},{"p":4,"x":1.35,"y":0.337},{"p":4,"x":1.36,"y":0.419},{"p":4,"x":1.42,"y":0.252},{"p":4,"x":1.51,"y":0.352},{"p":4,"x":1.52,"y":0.459},{"p":4,"x":1.52,"y":0.252},{"p":4,"x":1.57,"y":0.473},{"p":4,"x":1.73,"y":0.651},{"p":4,"x":1.82,"y":0.434},{"p":4,"x":1.92,"y":0.423},{"p":4,"x":1.94,"y":0.385},{"p":4,"x":1.96,"y":0.172},{"p":4,"x":2.05,"y":0.577},{"p":4,"x":2.47,"y":0.589},
  {"p":5,"x":0.09,"y":0.682},{"p":5,"x":0.28,"y":0.79},{"p":5,"x":0.28,"y":0.7},{"p":5,"x":0.4,"y":0.661},{"p":5,"x":0.4,"y":0.64},{"p":5,"x":0.4,"y":0.602},{"p":5,"x":0.47,"y":0.524},{"p":5,"x":0.51,"y":0.668},{"p":5,"x":0.52,"y":0.748},{"p":5,"x":0.54,"y":0.696},{"p":5,"x":0.58,"y":0.63},{"p":5,"x":0.6,"y":0.836},{"p":5,"x":0.63,"y":0.486},{"p":5,"x":0.66,"y":0.717},{"p":5,"x":0.72,"y":0.794},{"p":5,"x":0.74,"y":0.773},{"p":5,"x":0.76,"y":0.752},{"p":5,"x":0.77,"y":0.724},{"p":5,"x":0.78,"y":0.717},{"p":5,"x":0.8,"y":0.654},{"p":5,"x":0.82,"y":0.616},{"p":5,"x":0.82,"y":0.787},{"p":5,"x":0.84,"y":0.798},{"p":5,"x":0.85,"y":0.616},{"p":5,"x":0.89,"y":0.43},{"p":5,"x":0.9,"y":0.798},{"p":5,"x":0.95,"y":0.633},{"p":5,"x":0.99,"y":0.752},{"p":5,"x":1.01,"y":0.734},{"p":5,"x":1.09,"y":0.714},{"p":5,"x":1.14,"y":0.85},{"p":5,"x":1.14,"y":0.731},{"p":5,"x":1.15,"y":0.72},{"p":5,"x":1.18,"y":0.794},{"p":5,"x":1.18,"y":0.706},{"p":5,"x":1.21,"y":0.682},{"p":5,"x":1.22,"y":0.535},{"p":5,"x":1.24,"y":0.766},{"p":5,"x":1.24,"y":0.524},{"p":5,"x":1.26,"y":0.773},{"p":5,"x":1.27,"y":0.616},{"p":5,"x":1.31,"y":0.745},{"p":5,"x":1.33,"y":0.724},{"p":5,"x":1.33,"y":0.416},{"p":5,"x":1.34,"y":0.56},{"p":5,"x":1.35,"y":0.686},{"p":5,"x":1.37,"y":0.766},{"p":5,"x":1.4,"y":0.598},{"p":5,"x":1.41,"y":0.381},{"p":5,"x":1.43,"y":0.776},{"p":5,"x":1.45,"y":0.745},{"p":5,"x":1.45,"y":0.63},{"p":5,"x":1.45,"y":0.566},{"p":5,"x":1.47,"y":0.703},{"p":5,"x":1.48,"y":0.689},{"p":5,"x":1.49,"y":0.668},{"p":5,"x":1.5,"y":0.535},{"p":5,"x":1.54,"y":0.787},{"p":5,"x":1.56,"y":0.591},{"p":5,"x":1.6,"y":0.29},{"p":5,"x":1.68,"y":0.682},{"p":5,"x":1.68,"y":0.675},{"p":5,"x":1.7,"y":0.622},{"p":5,"x":1.75,"y":0.584},{"p":5,"x":1.76,"y":0.577},{"p":5,"x":1.76,"y":0.654},{"p":5,"x":1.79,"y":0.64},{"p":5,"x":1.81,"y":0.626},{"p":5,"x":1.83,"y":0.686},{"p":5,"x":1.84,"y":0.682},{"p":5,"x":1.92,"y":0.759},{"p":5,"x":1.95,"y":0.661},{"p":5,"x":1.97,"y":0.686},{"p":5,"x":1.98,"y":0.598},{"p":5,"x":1.98,"y":0.514},{"p":5,"x":1.98,"y":0.496},{"p":5,"x":2.03,"y":0.678},{"p":5,"x":2.08,"y":0.661},{"p":5,"x":2.09,"y":0.58},{"p":5,"x":2.09,"y":0.542},{"p":5,"x":2.1,"y":0.437},{"p":5,"x":2.1,"y":0.43},{"p":5,"x":2.1,"y":0.402},{"p":5,"x":2.12,"y":0.734},{"p":5,"x":2.14,"y":0.504},{"p":5,"x":2.17,"y":0.591},{"p":5,"x":2.19,"y":0.556},{"p":5,"x":2.2,"y":0.56},{"p":5,"x":2.22,"y":0.696},{"p":5,"x":2.23,"y":0.678},{"p":5,"x":2.25,"y":0.395},{"p":5,"x":2.27,"y":0.57},{"p":5,"x":2.28,"y":0.598},{"p":5,"x":2.31,"y":0.496},{"p":5,"x":2.33,"y":0.738},{"p":5,"x":2.34,"y":0.644},{"p":5,"x":2.34,"y":0.518},{"p":5,"x":2.36,"y":0.626},{"p":5,"x":2.37,"y":0.56},{"p":5,"x":2.39,"y":0.752},{"p":5,"x":2.39,"y":0.378},{"p":5,"x":2.4,"y":0.276},{"p":5,"x":2.42,"y":0.71},{"p":5,"x":2.44,"y":0.689},{"p":5,"x":2.44,"y":0.64},{"p":5,"x":2.47,"y":0.591},{"p":5,"x":2.48,"y":0.574},{"p":5,"x":2.53,"y":0.626},{"p":5,"x":2.54,"y":0.804},{"p":5,"x":2.56,"y":0.532},{"p":5,"x":2.57,"y":0.636},{"p":5,"x":2.59,"y":0.444},{"p":5,"x":2.61,"y":0.644},{"p":5,"x":2.62,"y":0.622},{"p":5,"x":2.64,"y":0.566},{"p":5,"x":2.66,"y":0.521},{"p":5,"x":2.66,"y":0.29},{"p":5,"x":2.69,"y":0.493},{"p":5,"x":2.71,"y":0.552},{"p":5,"x":2.71,"y":0.784},{"p":5,"x":2.72,"y":0.616},{"p":5,"x":2.73,"y":0.57},{"p":5,"x":2.75,"y":0.72},{"p":5,"x":2.75,"y":0.549},{"p":5,"x":2.77,"y":0.528},{"p":5,"x":2.78,"y":0.577},{"p":5,"x":2.79,"y":0.63},{"p":5,"x":2.81,"y":0.668},{"p":5,"x":2.83,"y":0.64},{"p":5,"x":2.84,"y":0.608},{"p":5,"x":2.84,"y":0.574},{"p":5,"x":2.84,"y":0.283},{"p":5,"x":2.86,"y":0.171},{"p":5,"x":2.88,"y":0.675},{"p":5,"x":2.88,"y":0.626},{"p":5,"x":2.9,"y":0.486},{"p":5,"x":2.91,"y":0.566},{"p":5,"x":2.92,"y":0.521},{"p":5,"x":2.94,"y":0.563},{"p":5,"x":2.96,"y":0.286},{"p":5,"x":2.97,"y":0.636},{"p":5,"x":3.03,"y":0.556},{"p":5,"x":3.05,"y":0.444},{"p":5,"x":3.07,"y":0.556},{"p":5,"x":3.08,"y":0.524},{"p":5,"x":3.1,"y":0.616},{"p":5,"x":3.11,"y":0.605},{"p":5,"x":3.11,"y":0.234},{"p":5,"x":3.11,"y":0.451},{"p":5,"x":3.13,"y":0.468},{"p":5,"x":3.13,"y":0.7},{"p":5,"x":3.16,"y":0.566},{"p":5,"x":3.19,"y":0.29},{"p":5,"x":3.21,"y":0.521},{"p":5,"x":3.22,"y":0.549},{"p":5,"x":3.23,"y":0.49},{"p":5,"x":3.25,"y":0.644},{"p":5,"x":3.27,"y":0.532},{"p":5,"x":3.3,"y":0.731},{"p":5,"x":3.32,"y":0.72},{"p":5,"x":3.32,"y":0.598},{"p":5,"x":3.33,"y":0.549},{"p":5,"x":3.36,"y":0.532},{"p":5,"x":3.38,"y":0.472},{"p":5,"x":3.4,"y":0.689},{"p":5,"x":3.42,"y":0.682},{"p":5,"x":3.44,"y":0.426},{"p":5,"x":3.47,"y":0.294},{"p":5,"x":3.46,"y":0.542},{"p":5,"x":3.55,"y":0.616},{"p":5,"x":3.6,"y":0.342},{"p":5,"x":3.65,"y":0.3},{"p":5,"x":3.71,"y":0.56},{"p":5,"x":3.76,"y":0.342},{"p":5,"x":3.79,"y":0.339},{"p":5,"x":3.85,"y":0.496},{"p":5,"x":3.86,"y":0.398},{"p":5,"x":3.91,"y":0.381},{"p":5,"x":3.94,"y":0.49},{"p":5,"x":3.94,"y":0.658},{"p":5,"x":3.98,"y":0.584},{"p":5,"x":4.01,"y":0.392},{"p":5,"x":4.01,"y":0.521},{"p":5,"x":4.03,"y":0.521},{"p":5,"x":4.1,"y":0.448},{"p":5,"x":4.16,"y":0.318},{"p":5,"x":4.18,"y":0.308},{"p":5,"x":4.19,"y":0.322},{"p":5,"x":4.23,"y":0.378},{"p":5,"x":4.29,"y":0.538},{"p":5,"x":4.3,"y":0.241},{"p":5,"x":4.38,"y":0.454},{"p":5,"x":4.42,"y":0.42},{"p":5,"x":4.6,"y":0.353},{"p":5,"x":4.59,"y":0.318},{"p":5,"x":4.65,"y":0.458},{"p":5,"x":4.82,"y":0.518},{"p":5,"x":4.84,"y":0.322},{"p":5,"x":4.89,"y":0.546},{"p":5,"x":4.98,"y":0.314},{"p":5,"x":5.2,"y":0.342},
  {"p":6,"x":-0.7,"y":0.646},{"p":6,"x":0.32,"y":0.58},{"p":6,"x":0.45,"y":0.81},{"p":6,"x":0.53,"y":0.779},{"p":6,"x":0.53,"y":0.549},{"p":6,"x":0.55,"y":0.86},{"p":6,"x":0.55,"y":0.85},{"p":6,"x":0.57,"y":0.84},{"p":6,"x":0.57,"y":0.834},{"p":6,"x":0.58,"y":0.681},{"p":6,"x":0.98,"y":0.692},{"p":6,"x":1.19,"y":0.561},{"p":6,"x":1.19,"y":0.672},{"p":6,"x":1.21,"y":0.738},{"p":6,"x":1.25,"y":0.768},{"p":6,"x":1.28,"y":0.707},{"p":6,"x":1.3,"y":0.745},{"p":6,"x":1.34,"y":0.495},{"p":6,"x":1.4,"y":0.745},{"p":6,"x":1.4,"y":0.773},{"p":6,"x":1.42,"y":0.508},{"p":6,"x":1.44,"y":0.696},{"p":6,"x":1.45,"y":0.687},{"p":6,"x":1.58,"y":0.669},{"p":6,"x":1.58,"y":0.638},{"p":6,"x":1.6,"y":0.58},{"p":6,"x":1.61,"y":0.779},{"p":6,"x":1.66,"y":0.722},{"p":6,"x":1.7,"y":0.492},{"p":6,"x":1.72,"y":0.485},{"p":6,"x":1.83,"y":0.666},{"p":6,"x":1.87,"y":0.61},{"p":6,"x":1.91,"y":0.63},{"p":6,"x":1.99,"y":0.676},{"p":6,"x":2.01,"y":0.63},{"p":6,"x":2.03,"y":0.722},{"p":6,"x":2.06,"y":0.53},{"p":6,"x":2.07,"y":0.804},{"p":6,"x":2.09,"y":0.485},{"p":6,"x":2.09,"y":0.534},{"p":6,"x":2.14,"y":0.577},{"p":6,"x":2.15,"y":0.661},{"p":6,"x":2.19,"y":0.703},{"p":6,"x":2.21,"y":0.61},{"p":6,"x":2.23,"y":0.7},{"p":6,"x":2.24,"y":0.672},{"p":6,"x":2.27,"y":0.553},{"p":6,"x":2.28,"y":0.561},{"p":6,"x":2.28,"y":0.656},{"p":6,"x":2.31,"y":0.377},{"p":6,"x":2.32,"y":0.446},{"p":6,"x":2.32,"y":0.477},{"p":6,"x":2.37,"y":0.58},{"p":6,"x":2.39,"y":0.638},{"p":6,"x":2.43,"y":0.703},{"p":6,"x":2.47,"y":0.166},{"p":6,"x":2.48,"y":0.814},{"p":6,"x":2.49,"y":0.738},{"p":6,"x":2.5,"y":0.666},{"p":6,"x":2.55,"y":0.457},{"p":6,"x":2.55,"y":0.561},{"p":6,"x":2.56,"y":0.573},{"p":6,"x":2.58,"y":0.564},{"p":6,"x":2.61,"y":0.687},{"p":6,"x":2.62,"y":0.768},{"p":6,"x":2.64,"y":0.592},{"p":6,"x":2.66,"y":0.653},{"p":6,"x":2.69,"y":0.672},{"p":6,"x":2.7,"y":0.748},{"p":6,"x":2.74,"y":0.807},{"p":6,"x":2.74,"y":0.595},{"p":6,"x":2.77,"y":0.553},{"p":6,"x":2.78,"y":0.62},{"p":6,"x":2.78,"y":0.523},{"p":6,"x":2.8,"y":0.503},{"p":6,"x":2.8,"y":0.436},{"p":6,"x":2.82,"y":0.715},{"p":6,"x":2.82,"y":0.703},{"p":6,"x":2.82,"y":0.692},{"p":6,"x":2.85,"y":0.635},{"p":6,"x":2.85,"y":0.592},{"p":6,"x":2.85,"y":0.569},{"p":6,"x":2.85,"y":0.408},{"p":6,"x":2.85,"y":0.304},{"p":6,"x":2.85,"y":0.281},{"p":6,"x":2.86,"y":0.45},{"p":6,"x":2.88,"y":0.477},{"p":6,"x":2.9,"y":0.672},{"p":6,"x":2.93,"y":0.604},{"p":6,"x":2.98,"y":0.385},{"p":6,"x":3.02,"y":0.538},{"p":6,"x":3.08,"y":0.646},{"p":6,"x":3.08,"y":0.615},{"p":6,"x":3.08,"y":0.3},{"p":6,"x":3.08,"y":0.764},{"p":6,"x":3.1,"y":0.906},{"p":6,"x":3.11,"y":0.718},{"p":6,"x":3.14,"y":0.408},{"p":6,"x":3.18,"y":0.273},{"p":6,"x":3.2,"y":0.546},{"p":6,"x":3.22,"y":0.573},{"p":6,"x":3.24,"y":0.715},{"p":6,"x":3.26,"y":0.646},{"p":6,"x":3.27,"y":0.638},{"p":6,"x":3.3,"y":0.423},{"p":6,"x":3.32,"y":0.6},{"p":6,"x":3.34,"y":0.61},{"p":6,"x":3.35,"y":0.477},{"p":6,"x":3.38,"y":0.313},{"p":6,"x":3.4,"y":0.32},{"p":6,"x":3.41,"y":0.741},{"p":6,"x":3.43,"y":0.561},{"p":6,"x":3.45,"y":0.646},{"p":6,"x":3.45,"y":0.393},{"p":6,"x":3.48,"y":0.331},{"p":6,"x":3.49,"y":0.641},{"p":6,"x":3.51,"y":0.62},{"p":6,"x":3.53,"y":0.727},{"p":6,"x":3.53,"y":0.512},{"p":6,"x":3.56,"y":0.553},{"p":6,"x":3.57,"y":0.27},{"p":6,"x":3.59,"y":0.377},{"p":6,"x":3.61,"y":0.523},{"p":6,"x":3.64,"y":0.393},{"p":6,"x":3.65,"y":0.347},{"p":6,"x":3.67,"y":0.18},{"p":6,"x":3.69,"y":0.607},{"p":6,"x":3.69,"y":0.577},{"p":6,"x":3.73,"y":0.63},{"p":6,"x":3.75,"y":0.646},{"p":6,"x":3.75,"y":0.469},{"p":6,"x":3.77,"y":0.446},{"p":6,"x":3.79,"y":0.561},{"p":6,"x":3.81,"y":0.681},{"p":6,"x":3.81,"y":0.339},{"p":6,"x":3.83,"y":0.316},{"p":6,"x":3.85,"y":0.439},{"p":6,"x":3.87,"y":0.3},{"p":6,"x":3.89,"y":0.722},{"p":6,"x":3.9,"y":0.527},{"p":6,"x":3.93,"y":0.573},{"p":6,"x":3.93,"y":0.626},{"p":6,"x":3.95,"y":0.543},{"p":6,"x":3.97,"y":0.534},{"p":6,"x":3.98,"y":0.63},{"p":6,"x":4.0,"y":0.641},{"p":6,"x":4.03,"y":0.193},{"p":6,"x":4.05,"y":0.715},{"p":6,"x":4.05,"y":0.278},{"p":6,"x":4.06,"y":0.485},{"p":6,"x":4.09,"y":0.431},{"p":6,"x":4.09,"y":0.282},{"p":6,"x":4.11,"y":0.534},{"p":6,"x":4.13,"y":0.62},{"p":6,"x":4.13,"y":0.278},{"p":6,"x":4.14,"y":0.288},{"p":6,"x":4.17,"y":0.546},{"p":6,"x":4.19,"y":0.573},{"p":6,"x":4.2,"y":0.288},{"p":6,"x":4.22,"y":0.457},{"p":6,"x":4.25,"y":0.692},{"p":6,"x":4.27,"y":0.323},{"p":6,"x":4.28,"y":0.385},{"p":6,"x":4.3,"y":0.255},{"p":6,"x":4.32,"y":0.255},{"p":6,"x":4.35,"y":0.488},{"p":6,"x":4.36,"y":0.477},{"p":6,"x":4.4,"y":0.442},{"p":6,"x":4.43,"y":0.761},{"p":6,"x":4.44,"y":0.446},{"p":6,"x":4.44,"y":0.416},{"p":6,"x":4.48,"y":0.316},{"p":6,"x":4.52,"y":0.58},{"p":6,"x":4.54,"y":0.17},{"p":6,"x":4.56,"y":0.5},{"p":6,"x":4.58,"y":0.497},{"p":6,"x":4.62,"y":0.661},{"p":6,"x":4.66,"y":0.255},{"p":6,"x":4.68,"y":0.285},{"p":6,"x":4.69,"y":0.62},{"p":6,"x":4.72,"y":0.209},{"p":6,"x":4.72,"y":0.163},{"p":6,"x":4.74,"y":0.224},{"p":6,"x":4.74,"y":0.267},{"p":6,"x":4.77,"y":0.431},{"p":6,"x":4.77,"y":0.339},{"p":6,"x":4.84,"y":0.377},{"p":6,"x":4.88,"y":0.308},{"p":6,"x":4.9,"y":0.3},{"p":6,"x":4.93,"y":0.3},{"p":6,"x":4.96,"y":0.538},{"p":6,"x":4.96,"y":0.354},{"p":6,"x":5.08,"y":0.27},{"p":6,"x":5.11,"y":0.396},{"p":6,"x":5.19,"y":0.35},{"p":6,"x":5.23,"y":0.347},{"p":6,"x":5.27,"y":0.282},{"p":6,"x":5.35,"y":0.147},{"p":6,"x":5.43,"y":0.282},{"p":6,"x":5.5,"y":0.423},{"p":6,"x":5.87,"y":0.546}
 ]
},
"vconcat": [
 {"hconcat": [
  {"width": 293, "height": 175, "layer": [
   {"data": {"name": "band"}, "transform": [{"filter": "datum.p==1"}], "mark": {"type": "area", "color": "#999999", "opacity": 0.35},
    "encoding": {"x": {"field": "x", "type": "quantitative", "title": "ln(TP)", "scale": {"domain": [-5.09, 0.42], "nice": false, "zero": false}, "axis": {"values": [-5,-4,-3,-2,-1,0], "format": "d"}},
     "y": {"field": "lo", "type": "quantitative", "title": "Average EQR", "scale": {"domain": [0.138, 0.879], "nice": false, "zero": false}, "axis": {"values": [0.3,0.5,0.7], "format": ".1f"}},
     "y2": {"field": "hi"}}},
   {"data": {"name": "refs"}, "transform": [{"filter": "datum.p==1"}], "mark": {"type": "rule", "color": "#a0a0a0", "strokeWidth": 1},
    "encoding": {"y": {"field": "v", "type": "quantitative", "title": "Average EQR"}, "strokeDash": {"field": "t", "type": "nominal", "scale": {"domain": ["solid", "dashed"], "range": [[1, 0], [4, 3.5]]}, "legend": null}}},
   {"data": {"name": "pts"}, "transform": [{"filter": "datum.p==1"}], "mark": {"type": "circle", "color": "#000000", "size": 8, "opacity": 1},
    "encoding": {"x": {"field": "x", "type": "quantitative", "title": "ln(TP)"}, "y": {"field": "y", "type": "quantitative", "title": "Average EQR"}}},
   {"data": {"name": "band"}, "transform": [{"filter": "datum.p==1"}], "mark": {"type": "line", "color": "#3366ff", "strokeWidth": 1.5},
    "encoding": {"x": {"field": "x", "type": "quantitative", "title": "ln(TP)"}, "y": {"field": "fit", "type": "quantitative", "title": "Average EQR"}}},
   {"data": {"name": "notes"}, "transform": [{"filter": "datum.p==1"}], "mark": {"type": "text", "fontSize": 8, "color": "#333333"},
    "encoding": {"x": {"field": "x", "type": "quantitative", "title": "ln(TP)"}, "y": {"field": "y", "type": "quantitative", "title": "Average EQR"}, "text": {"field": "label"}}}
  ]},
  {"width": 297, "height": 182, "layer": [
   {"data": {"name": "band"}, "transform": [{"filter": "datum.p==2"}], "mark": {"type": "area", "color": "#999999", "opacity": 0.35},
    "encoding": {"x": {"field": "x", "type": "quantitative", "title": "ln(TP)", "scale": {"domain": [-4.99, 0.65], "nice": false, "zero": false}, "axis": {"values": [-4,-3,-2,-1,0], "format": "d"}},
     "y": {"field": "lo", "type": "quantitative", "title": "Average EQR", "scale": {"domain": [0.103, 0.946], "nice": false, "zero": false}, "axis": {"values": [0.25,0.5,0.75], "format": ".2f"}},
     "y2": {"field": "hi"}}},
   {"data": {"name": "refs"}, "transform": [{"filter": "datum.p==2"}], "mark": {"type": "rule", "color": "#a0a0a0", "strokeWidth": 1},
    "encoding": {"y": {"field": "v", "type": "quantitative", "title": "Average EQR"}, "strokeDash": {"field": "t", "type": "nominal", "scale": {"domain": ["solid", "dashed"], "range": [[1, 0], [4, 3.5]]}, "legend": null}}},
   {"data": {"name": "pts"}, "transform": [{"filter": "datum.p==2"}], "mark": {"type": "circle", "color": "#000000", "size": 8, "opacity": 1},
    "encoding": {"x": {"field": "x", "type": "quantitative", "title": "ln(TP)"}, "y": {"field": "y", "type": "quantitative", "title": "Average EQR"}}},
   {"data": {"name": "band"}, "transform": [{"filter": "datum.p==2"}], "mark": {"type": "line", "color": "#3366ff", "strokeWidth": 1.5},
    "encoding": {"x": {"field": "x", "type": "quantitative", "title": "ln(TP)"}, "y": {"field": "fit", "type": "quantitative", "title": "Average EQR"}}},
   {"data": {"name": "notes"}, "transform": [{"filter": "datum.p==2"}], "mark": {"type": "text", "fontSize": 8, "color": "#333333"},
    "encoding": {"x": {"field": "x", "type": "quantitative", "title": "ln(TP)"}, "y": {"field": "y", "type": "quantitative", "title": "Average EQR"}, "text": {"field": "label"}}}
  ]}
 ], "spacing": 41},
 {"hconcat": [
  {"width": 293, "height": 175, "layer": [
   {"data": {"name": "band"}, "transform": [{"filter": "datum.p==3"}], "mark": {"type": "area", "color": "#999999", "opacity": 0.35},
    "encoding": {"x": {"field": "x", "type": "quantitative", "title": "ln(TN)", "scale": {"domain": [-1.70, 2.03], "nice": false, "zero": false}, "axis": {"values": [-1,0,1,2], "format": "d"}},
     "y": {"field": "lo", "type": "quantitative", "title": "Average EQR", "scale": {"domain": [0.21, 0.865], "nice": false, "zero": false}, "axis": {"values": [0.4,0.6,0.8], "format": ".1f"}},
     "y2": {"field": "hi"}}},
   {"data": {"name": "refs"}, "transform": [{"filter": "datum.p==3"}], "mark": {"type": "rule", "color": "#a0a0a0", "strokeWidth": 1},
    "encoding": {"y": {"field": "v", "type": "quantitative", "title": "Average EQR"}, "strokeDash": {"field": "t", "type": "nominal", "scale": {"domain": ["solid", "dashed"], "range": [[1, 0], [4, 3.5]]}, "legend": null}}},
   {"data": {"name": "pts"}, "transform": [{"filter": "datum.p==3"}], "mark": {"type": "circle", "color": "#000000", "size": 8, "opacity": 1},
    "encoding": {"x": {"field": "x", "type": "quantitative", "title": "ln(TN)"}, "y": {"field": "y", "type": "quantitative", "title": "Average EQR"}}},
   {"data": {"name": "band"}, "transform": [{"filter": "datum.p==3"}], "mark": {"type": "line", "color": "#3366ff", "strokeWidth": 1.5},
    "encoding": {"x": {"field": "x", "type": "quantitative", "title": "ln(TN)"}, "y": {"field": "fit", "type": "quantitative", "title": "Average EQR"}}},
   {"data": {"name": "notes"}, "transform": [{"filter": "datum.p==3"}], "mark": {"type": "text", "fontSize": 8, "color": "#333333"},
    "encoding": {"x": {"field": "x", "type": "quantitative", "title": "ln(TN)"}, "y": {"field": "y", "type": "quantitative", "title": "Average EQR"}, "text": {"field": "label"}}}
  ]},
  {"width": 298, "height": 177, "layer": [
   {"data": {"name": "band"}, "transform": [{"filter": "datum.p==4"}], "mark": {"type": "area", "color": "#999999", "opacity": 0.35},
    "encoding": {"x": {"field": "x", "type": "quantitative", "title": "ln(TN)", "scale": {"domain": [-1.33, 2.65], "nice": false, "zero": false}, "axis": {"values": [-1,0,1,2], "format": "d"}},
     "y": {"field": "lo", "type": "quantitative", "title": "Average EQR", "scale": {"domain": [0.106, 0.891], "nice": false, "zero": false}, "axis": {"values": [0.2,0.4,0.6,0.8], "format": ".1f"}},
     "y2": {"field": "hi"}}},
   {"data": {"name": "refs"}, "transform": [{"filter": "datum.p==4"}], "mark": {"type": "rule", "color": "#a0a0a0", "strokeWidth": 1},
    "encoding": {"y": {"field": "v", "type": "quantitative", "title": "Average EQR"}, "strokeDash": {"field": "t", "type": "nominal", "scale": {"domain": ["solid", "dashed"], "range": [[1, 0], [4, 3.5]]}, "legend": null}}},
   {"data": {"name": "pts"}, "transform": [{"filter": "datum.p==4"}], "mark": {"type": "circle", "color": "#000000", "size": 8, "opacity": 1},
    "encoding": {"x": {"field": "x", "type": "quantitative", "title": "ln(TN)"}, "y": {"field": "y", "type": "quantitative", "title": "Average EQR"}}},
   {"data": {"name": "band"}, "transform": [{"filter": "datum.p==4"}], "mark": {"type": "line", "color": "#3366ff", "strokeWidth": 1.5},
    "encoding": {"x": {"field": "x", "type": "quantitative", "title": "ln(TN)"}, "y": {"field": "fit", "type": "quantitative", "title": "Average EQR"}}},
   {"data": {"name": "notes"}, "transform": [{"filter": "datum.p==4"}], "mark": {"type": "text", "fontSize": 8, "color": "#333333"},
    "encoding": {"x": {"field": "x", "type": "quantitative", "title": "ln(TN)"}, "y": {"field": "y", "type": "quantitative", "title": "Average EQR"}, "text": {"field": "label"}}}
  ]}
 ], "spacing": 43},
 {"hconcat": [
  {"width": 299, "height": 179, "layer": [
   {"data": {"name": "band"}, "transform": [{"filter": "datum.p==5"}], "mark": {"type": "area", "color": "#999999", "opacity": 0.35},
    "encoding": {"x": {"field": "x", "type": "quantitative", "title": "ln(chl-a)", "scale": {"domain": [-0.17, 5.47], "nice": false, "zero": false}, "axis": {"values": [0,1,2,3,4,5], "format": "d"}},
     "y": {"field": "lo", "type": "quantitative", "title": "Average EQR", "scale": {"domain": [0.134, 0.885], "nice": false, "zero": false}, "axis": {"values": [0.3,0.5,0.7], "format": ".1f"}},
     "y2": {"field": "hi"}}},
   {"data": {"name": "refs"}, "transform": [{"filter": "datum.p==5"}], "mark": {"type": "rule", "color": "#a0a0a0", "strokeWidth": 1},
    "encoding": {"y": {"field": "v", "type": "quantitative", "title": "Average EQR"}, "strokeDash": {"field": "t", "type": "nominal", "scale": {"domain": ["solid", "dashed"], "range": [[1, 0], [4, 3.5]]}, "legend": null}}},
   {"data": {"name": "pts"}, "transform": [{"filter": "datum.p==5"}], "mark": {"type": "circle", "color": "#000000", "size": 8, "opacity": 1},
    "encoding": {"x": {"field": "x", "type": "quantitative", "title": "ln(chl-a)"}, "y": {"field": "y", "type": "quantitative", "title": "Average EQR"}}},
   {"data": {"name": "band"}, "transform": [{"filter": "datum.p==5"}], "mark": {"type": "line", "color": "#3366ff", "strokeWidth": 1.5},
    "encoding": {"x": {"field": "x", "type": "quantitative", "title": "ln(chl-a)"}, "y": {"field": "fit", "type": "quantitative", "title": "Average EQR"}}},
   {"data": {"name": "notes"}, "transform": [{"filter": "datum.p==5"}], "mark": {"type": "text", "fontSize": 8, "color": "#333333"},
    "encoding": {"x": {"field": "x", "type": "quantitative", "title": "ln(chl-a)"}, "y": {"field": "y", "type": "quantitative", "title": "Average EQR"}, "text": {"field": "label"}}}
  ]},
  {"width": 305, "height": 187, "layer": [
   {"data": {"name": "band"}, "transform": [{"filter": "datum.p==6"}], "mark": {"type": "area", "color": "#999999", "opacity": 0.35},
    "encoding": {"x": {"field": "x", "type": "quantitative", "title": "ln(chl-a)", "scale": {"domain": [-1.035, 6.2], "nice": false, "zero": false}, "axis": {"values": [0,2,4,6], "format": "d"}},
     "y": {"field": "lo", "type": "quantitative", "title": "Average EQR", "scale": {"domain": [0.101, 0.96], "nice": false, "zero": false}, "axis": {"values": [0.25,0.5,0.75], "format": ".2f"}},
     "y2": {"field": "hi"}}},
   {"data": {"name": "refs"}, "transform": [{"filter": "datum.p==6"}], "mark": {"type": "rule", "color": "#a0a0a0", "strokeWidth": 1},
    "encoding": {"y": {"field": "v", "type": "quantitative", "title": "Average EQR"}, "strokeDash": {"field": "t", "type": "nominal", "scale": {"domain": ["solid", "dashed"], "range": [[1, 0], [4, 3.5]]}, "legend": null}}},
   {"data": {"name": "pts"}, "transform": [{"filter": "datum.p==6"}], "mark": {"type": "circle", "color": "#000000", "size": 8, "opacity": 1},
    "encoding": {"x": {"field": "x", "type": "quantitative", "title": "ln(chl-a)"}, "y": {"field": "y", "type": "quantitative", "title": "Average EQR"}}},
   {"data": {"name": "band"}, "transform": [{"filter": "datum.p==6"}], "mark": {"type": "line", "color": "#3366ff", "strokeWidth": 1.5},
    "encoding": {"x": {"field": "x", "type": "quantitative", "title": "ln(chl-a)"}, "y": {"field": "fit", "type": "quantitative", "title": "Average EQR"}}},
   {"data": {"name": "notes"}, "transform": [{"filter": "datum.p==6"}], "mark": {"type": "text", "fontSize": 8, "color": "#333333"},
    "encoding": {"x": {"field": "x", "type": "quantitative", "title": "ln(chl-a)"}, "y": {"field": "y", "type": "quantitative", "title": "Average EQR"}, "text": {"field": "label"}}}
  ]}
 ], "spacing": 31}
],
"spacing": 15
}
